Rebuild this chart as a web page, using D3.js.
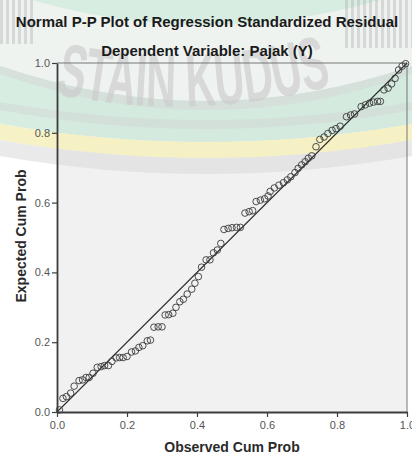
<!DOCTYPE html>
<html><head><meta charset="utf-8">
<script src="https://cdn.jsdelivr.net/npm/d3@7"></script>
<style>
html,body{margin:0;padding:0;background:#fff;}
svg{display:block;font-family:"Liberation Sans",Arial,sans-serif;}
</style></head>
<body>
<svg id="chart" width="412" height="454"></svg>
<script>
// ---- data ----
const titleText = "Normal P-P Plot of Regression Standardized Residual";
const subtitleText = "Dependent Variable: Pajak (Y)";
const xLabel = "Observed Cum Prob";
const yLabel = "Expected Cum Prob";
const watermarkText = "STAIN KUDUS";
const tickValues = [0, 0.2, 0.4, 0.6, 0.8, 1.0];
const observedCumProb = [0.007,0.017,0.027,0.039,0.049,0.063,0.073,0.083,0.092,0.103,
 0.115,0.126,0.136,0.147,0.157,0.169,0.179,0.189,0.200,0.213,0.224,0.234,0.245,0.258,
 0.267,0.277,0.289,0.300,0.309,0.319,0.331,0.340,0.351,0.361,0.372,0.385,0.394,0.404,
 0.413,0.426,0.437,0.447,0.458,0.468,0.477,0.489,0.500,0.513,0.524,0.537,0.549,0.559,
 0.569,0.581,0.593,0.603,0.609,0.621,0.634,0.647,0.658,0.668,0.680,0.689,0.699,0.709,
 0.718,0.728,0.740,0.751,0.763,0.774,0.786,0.797,0.809,0.827,0.839,0.850,0.869,0.881,
 0.893,0.904,0.916,0.924,0.934,0.946,0.956,0.966,0.976,0.986,0.996];
const expectedCumProb = [0.006,0.039,0.044,0.054,0.074,0.090,0.092,0.099,0.099,0.111,
 0.128,0.130,0.133,0.133,0.145,0.155,0.156,0.156,0.159,0.172,0.175,0.185,0.190,0.204,
 0.206,0.243,0.244,0.244,0.278,0.279,0.283,0.300,0.316,0.323,0.338,0.352,0.369,0.388,
 0.415,0.436,0.436,0.456,0.464,0.483,0.523,0.526,0.528,0.529,0.529,0.570,0.574,0.577,
 0.603,0.607,0.611,0.619,0.632,0.642,0.650,0.657,0.665,0.674,0.686,0.698,0.708,0.717,
 0.727,0.734,0.760,0.781,0.788,0.798,0.807,0.812,0.819,0.846,0.851,0.854,0.875,0.880,
 0.885,0.888,0.890,0.890,0.923,0.928,0.940,0.956,0.980,0.991,0.998];
const points = observedCumProb.map((v,i)=>({x:v, y:expectedCumProb[i]}));

// ---- layout ----
const svg = d3.select("#chart");
const L = 57, R = 407, T = 63, B = 412;
const x = d3.scaleLinear().domain([0,1]).range([L,R]);
const y = d3.scaleLinear().domain([0,1]).range([B,T]);

// plot background
svg.append("rect").attr("x",L).attr("y",T).attr("width",R-L).attr("height",B-T).attr("fill","#f1f1f1");

// ---- watermark (decorative) ----
const wm = svg.append("g").attr("pointer-events","none");
wm.append("path").attr("d","M0,0 H412 V124 Q206,160 0,124 Z").attr("fill","#cde8da").attr("opacity",0.8);
// light letter band
wm.append("path").attr("d","M0,-10 Q206,60 412,-10 L412,66 Q206,136 0,66 Z").attr("fill","#f4f4f4").attr("opacity",0.8);
// gray band beneath letters
wm.append("path").attr("d","M0,66 Q206,136 412,66 L412,74 Q206,146 0,74 Z").attr("fill","#d6d6d6").attr("opacity",0.5);
// gray stripe in mint
wm.append("path").attr("d","M0,102 Q206,138 412,102 L412,110 Q206,148 0,110 Z").attr("fill","#d2d2d2").attr("opacity",0.4);
// yellow band
wm.append("path").attr("d","M0,124 Q206,160 412,124 L412,140 Q206,176 0,140 Z").attr("fill","#f5f1c0").attr("opacity",0.9);
// gray band below yellow
wm.append("path").attr("d","M0,140 Q206,176 412,140 L412,156 Q206,192 0,156 Z").attr("fill","#d9d9d9").attr("opacity",0.55);
// vertical stripes in top corners
const stripes = wm.append("g").attr("opacity",0.35);
d3.range(0,36,6).forEach(s=>stripes.append("rect").attr("x",s).attr("y",0).attr("width",3).attr("height",44).attr("fill","#a8a8a8"));
d3.range(345,412,6).forEach(s=>stripes.append("rect").attr("x",s).attr("y",0).attr("width",3).attr("height",48).attr("fill","#a8a8a8"));
// arced letters
wm.append("defs").append("path").attr("id","wmArc").attr("d","M55,94 Q200,124 345,82");
wm.append("text").attr("font-size",75).attr("font-weight","bold").attr("fill","#cbcbcb").attr("opacity",0.65)
  .append("textPath").attr("href","#wmArc").attr("textLength",280).attr("lengthAdjust","spacingAndGlyphs")
  .text(watermarkText);

// ---- frame (top & right) ----
svg.append("line").attr("x1",L).attr("x2",R).attr("y1",T).attr("y2",T).attr("stroke","#777").attr("stroke-width",1);
svg.append("line").attr("x1",R).attr("x2",R).attr("y1",T).attr("y2",B).attr("stroke","#777").attr("stroke-width",1);

// reference line
svg.append("line").attr("x1",x(0)).attr("y1",y(0)).attr("x2",x(1)).attr("y2",y(1))
  .attr("stroke","#2e2e2e").attr("stroke-width",1.1);

// points
svg.append("g").selectAll("circle").data(points).join("circle")
  .attr("cx",d=>x(d.x)).attr("cy",d=>y(d.y)).attr("r",3.3)
  .attr("fill","none").attr("stroke","#3a3a3a").attr("stroke-width",0.9);

// axes
const fmt = d3.format(".1f");
const gx = svg.append("g").attr("transform",`translate(0,${B})`)
  .call(d3.axisBottom(x).tickValues(tickValues).tickFormat(fmt).tickSize(5).tickSizeOuter(0));
const gy = svg.append("g").attr("transform",`translate(${L},0)`)
  .call(d3.axisLeft(y).tickValues(tickValues).tickFormat(fmt).tickSize(5).tickSizeOuter(0));
[gx,gy].forEach(g=>{
  g.select(".domain").attr("stroke","#3c3c3c").attr("stroke-width",1.8);
  g.selectAll(".tick line").attr("stroke","#3c3c3c").attr("stroke-width",1.2);
  g.selectAll(".tick text").attr("fill","#555").attr("font-size",11)
   .attr("font-family","'Liberation Sans',Arial,sans-serif");
});
gx.selectAll(".tick text").attr("dy","0.71em").attr("y",9);
gy.selectAll(".tick text").attr("x",-7);

// titles
svg.append("text").attr("x",207).attr("y",27).attr("text-anchor","middle")
  .attr("font-size",15).attr("font-weight","bold").attr("fill","#1a1a1a").text(titleText);
svg.append("text").attr("x",207).attr("y",56).attr("text-anchor","middle")
  .attr("font-size",15).attr("font-weight","bold").attr("fill","#1a1a1a").text(subtitleText);
svg.append("text").attr("x",(L+R)/2).attr("y",452).attr("text-anchor","middle")
  .attr("font-size",14).attr("font-weight","bold").attr("fill","#2a2a2a").text(xLabel);
svg.append("text").attr("transform",`translate(26,236) rotate(-90)`).attr("text-anchor","middle")
  .attr("font-size",14).attr("font-weight","bold").attr("fill","#2a2a2a").text(yLabel);
</script>
</body></html>
